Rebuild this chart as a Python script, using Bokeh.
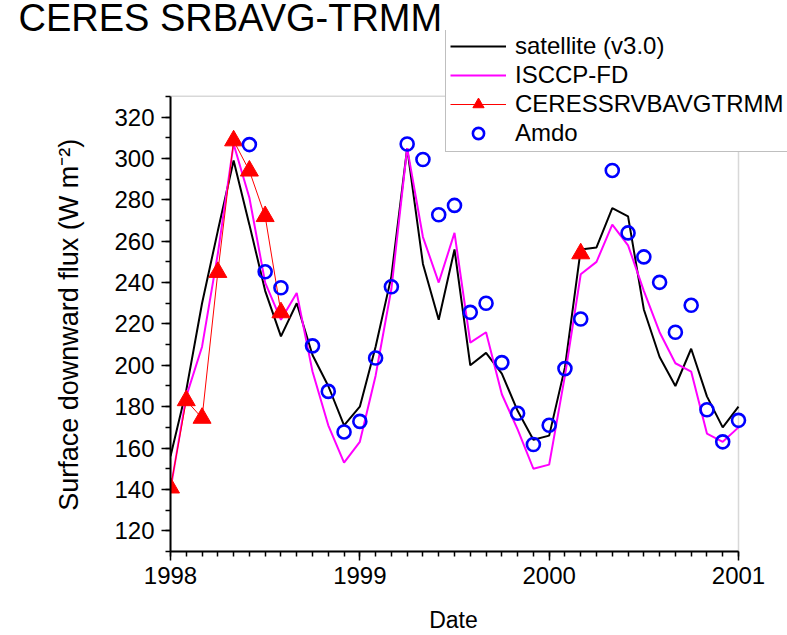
from bokeh.plotting import figure
from bokeh.models import (FixedTicker, Range1d, Legend, LegendItem, BoxAnnotation, Title)
from bokeh.embed import file_html
from bokeh.resources import INLINE

# ---------------- data ----------------
title_text = "CERES SRBAVG-TRMM"
start_year = 1998
n_months = 37  # Jan 1998 .. Jan 2001

satellite = [156, 188, 230, 265, 299, 268, 236, 214, 230, 205, 190, 171, 180,
             209, 243, 305, 249, 222, 256, 200, 206, 196, 178, 164, 166, 199,
             256, 257, 276, 272, 227, 204, 190, 208, 185, 170, 180]

isccp = [140, 185, 209, 254, 307, 281, 240, 222, 235, 197, 171, 153, 163,
         195, 237, 305, 262, 240, 264, 211, 216, 186, 169, 150, 152, 195,
         244, 250, 268, 258, 236, 216, 201, 197, 167, 163, 170]

ceres_month = [0, 1, 2, 3, 4, 5, 6, 7, 26]
ceres_vals = [140.8, 183, 174.5, 245, 308.6, 294, 272, 225.5, 254]

amdo_month = [5, 6, 7, 9, 10, 11, 12, 13, 14, 15, 16, 17, 18, 19, 20, 21, 22,
              23, 24, 25, 26, 28, 29, 30, 31, 32, 33, 34, 35, 36]
amdo_vals = [306.7, 245.2, 237.5, 209.4, 187.4, 167.8, 172.9, 203.5, 238, 307,
             299.5, 272.8, 277.3, 225.6, 230, 201.3, 176.8, 161.7, 171, 198.4,
             222.4, 294.2, 264, 252.4, 240.1, 216, 229, 178.5, 163, 173.4]

year_ticks = [1998, 1999, 2000, 2001]
year_labels = ["1998", "1999", "2000", "2001"]
y_ticks = [120, 140, 160, 180, 200, 220, 240, 260, 280, 300, 320]
y_minor = [110 + 10 * i for i in range(23)]
x_start, x_end = 1998, 2001
y_start, y_end = 110, 330

# ---------------- layout (pixels) ----------------
W, H = 787, 635
LEFT, TOP, BOTTOM = 170, 30, 83
AXIS_RIGHT_PX = 738           # where the x axis ends (year 2001)
AXIS_TOP_PX = 96              # where the y axis ends (330)

frame_w = W - LEFT
frame_h = H - TOP - BOTTOM
px_per_year = (AXIS_RIGHT_PX - LEFT) / (x_end - x_start)
px_per_unit = (H - BOTTOM - AXIS_TOP_PX) / (y_end - y_start)
xr_end = x_start + frame_w / px_per_year
yr_end = y_start + frame_h / px_per_unit

NBSP = "\u00a0"

# ---------------- derived coordinates ----------------
def dec(m):
    return start_year + m / 12.0

x_all = [dec(m) for m in range(n_months)]
ceres_x = [dec(m) for m in ceres_month]
amdo_x = [dec(m) for m in amdo_month]

line_x, line_y = [], []
for i, (m, v) in enumerate(zip(ceres_month, ceres_vals)):
    if i > 0 and m - ceres_month[i - 1] > 1:
        line_x.append(float("nan"))
        line_y.append(float("nan"))
    line_x.append(dec(m))
    line_y.append(v)

FONT = "Liberation Sans"

p = figure(width=W, height=H, output_backend="svg", toolbar_location=None,
           x_range=Range1d(x_start, xr_end), y_range=Range1d(y_start, yr_end),
           min_border_left=LEFT, min_border_right=0, min_border_top=TOP,
           min_border_bottom=BOTTOM, title=None)

p.xgrid.visible = False
p.ygrid.visible = False
p.background_fill_color = "white"
p.border_fill_color = "white"
p.outline_line_color = None

# plot-area box (gray top/right edges)
p.add_layout(BoxAnnotation(left=x_start, right=x_end, bottom=y_start, top=y_end,
                           fill_alpha=0, line_color="#7f7f7f", line_width=1.5,
                           level="underlay"))

r_sat = p.line(x_all, satellite, line_color="black", line_width=2)
r_isc = p.line(x_all, isccp, line_color="#ff00ff", line_width=2)
r_cl = p.line(line_x, line_y, line_color="#ff0000", line_width=1)
r_cm = p.scatter(ceres_x, ceres_vals, marker="triangle", size=18,
                 fill_color="#ff0000", line_color="#ff0000")
r_am = p.scatter(amdo_x, amdo_vals, marker="circle", size=13,
                 fill_color=None, line_color="#0000ff", line_width=2.6)

# axes
p.xaxis.ticker = FixedTicker(ticks=year_ticks, minor_ticks=x_all)
p.xaxis.major_label_overrides = {t: l for t, l in zip(year_ticks, year_labels)}
p.xaxis.bounds = (x_start, x_end)
p.yaxis.ticker = FixedTicker(ticks=y_ticks, minor_ticks=y_minor)
p.yaxis.bounds = (y_start, y_end)

for ax in (p.xaxis[0], p.yaxis[0]):
    ax.axis_line_color = "black"
    ax.axis_line_width = 2
    ax.major_tick_line_color = "black"
    ax.minor_tick_line_color = "black"
    ax.major_tick_line_width = 1.5
    ax.minor_tick_line_width = 1.5
    ax.major_tick_in = 0
    ax.major_tick_out = 9
    ax.minor_tick_in = 0
    ax.minor_tick_out = 5
    ax.major_label_text_font = FONT
    ax.major_label_text_font_size = "24px"
    ax.major_label_text_color = "black"
    ax.axis_label_text_font = FONT
    ax.axis_label_text_font_style = "normal"
    ax.axis_label_text_color = "black"

# axis labels are centred on the frame; trailing no-break spaces move them
# to the centre of the axis span (the frame extends past the axes)
p.xaxis.axis_label = "Date" + NBSP * 8
p.xaxis.axis_label_text_font_size = "23px"
p.xaxis.major_label_standoff = 6
p.xaxis.axis_label_standoff = 20
p.xaxis.axis_label_text_line_height = 0.7
p.yaxis.axis_label = "Surface downward flux (W m\u207b\u00b2)" + NBSP * 9
p.yaxis.axis_label_text_font_size = "27px"
p.yaxis.major_label_standoff = 7
p.yaxis.axis_label_standoff = 27

# title
t = Title(text=title_text, align="left", offset=-152, standoff=-16,
          text_font=FONT, text_font_size="38px", text_font_style="normal",
          text_color="black", text_line_height=1.0)
p.add_layout(t, "above")

# legend (bottom-left corner given relative to the frame's bottom-left)
legend = Legend(items=[
    LegendItem(label="satellite (v3.0)", renderers=[r_sat]),
    LegendItem(label="ISCCP-FD", renderers=[r_isc]),
    LegendItem(label="CERESSRVBAVGTRMM", renderers=[r_cl, r_cm]),
    LegendItem(label="Amdo", renderers=[r_am]),
], location=(275, 399))
legend.label_text_font = FONT
legend.label_text_font_size = "24px"
legend.label_text_color = "black"
legend.glyph_width = 56
legend.glyph_height = 28
legend.label_height = 28
legend.label_standoff = 9
legend.spacing = 1
legend.padding = 4
legend.margin = 0
legend.border_line_color = "#7f7f7f"
legend.border_line_width = 1.5
legend.background_fill_color = "white"
legend.background_fill_alpha = 1.0
p.add_layout(legend, "center")

open("out.html", "w").write(file_html(p, INLINE))
